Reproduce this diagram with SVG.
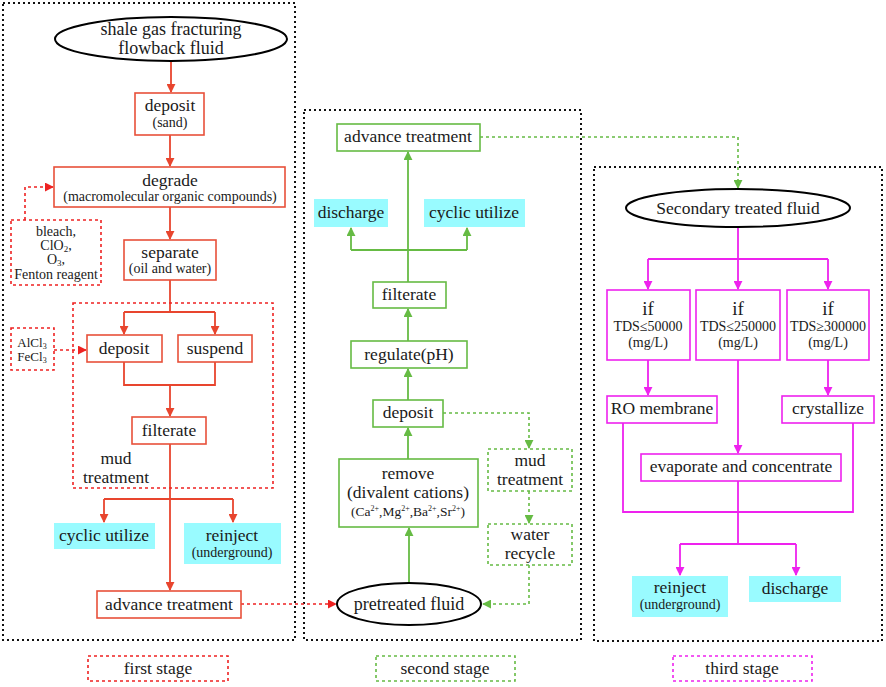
<svg xmlns="http://www.w3.org/2000/svg" width="886" height="687" viewBox="0 0 886 687" font-family="'Liberation Serif', Tinos, 'Times New Roman', serif">
<defs>
<style>
text{font-family:'Liberation Serif',Tinos,'Times New Roman',serif;fill:#1a1a1a;text-anchor:middle}
.t16{font-size:17.5px}.t13{font-size:14px}.t12{font-size:14px}.t17{font-size:18px}.tif{font-size:19px}
.panel{fill:none;stroke:#111;stroke-width:2;stroke-dasharray:2 3}
.rb{fill:#fff;stroke:#e8503a;stroke-width:1.6}
.rd{fill:none;stroke:#ee2222;stroke-width:1.6;stroke-dasharray:3 3}
.rl{fill:none;stroke:#e8452e;stroke-width:1.8}
.gb{fill:#fff;stroke:#66bb44;stroke-width:1.6}
.gd{fill:none;stroke:#66bb44;stroke-width:1.6;stroke-dasharray:3 3}
.gl{fill:none;stroke:#66bb44;stroke-width:1.8}
.mb{fill:#fff;stroke:#ee22ee;stroke-width:1.6}
.md{fill:none;stroke:#ee22ee;stroke-width:1.6;stroke-dasharray:3 3}
.ml{fill:none;stroke:#ee22ee;stroke-width:1.8}
.cy{fill:#99fbff}
.el{fill:#fff;stroke:#000;stroke-width:2}
</style>
<marker id="ar" viewBox="0 0 10 10" refX="9" refY="5" markerWidth="9" markerHeight="9" markerUnits="userSpaceOnUse" orient="auto"><path d="M0,0L10,5L0,10z" fill="#e8452e"/></marker>
<marker id="ard" viewBox="0 0 10 10" refX="9" refY="5" markerWidth="9" markerHeight="9" markerUnits="userSpaceOnUse" orient="auto"><path d="M0,0L10,5L0,10z" fill="#ee2222"/></marker>
<marker id="ag" viewBox="0 0 10 10" refX="9" refY="5" markerWidth="9" markerHeight="9" markerUnits="userSpaceOnUse" orient="auto"><path d="M0,0L10,5L0,10z" fill="#66bb44"/></marker>
<marker id="am" viewBox="0 0 10 10" refX="9" refY="5" markerWidth="9" markerHeight="9" markerUnits="userSpaceOnUse" orient="auto"><path d="M0,0L10,5L0,10z" fill="#ee22ee"/></marker>
</defs>
<rect width="886" height="687" fill="#fff"/>

<g id="panels">
<rect class="panel" x="3" y="3" width="292" height="637"/>
<rect class="panel" x="304" y="110" width="277" height="530"/>
<rect class="panel" x="594" y="167" width="288" height="474"/>
</g>

<g id="connectors">
<path class="rl" d="M171,62V92" marker-end="url(#ar)"/>
<path class="rl" d="M170,135V166" marker-end="url(#ar)"/>
<path class="rl" d="M170,207V239" marker-end="url(#ar)"/>
<path class="rd" d="M25,220V187H53" marker-end="url(#ard)"/>
<path class="rl" d="M170,280V312"/>
<path class="rl" d="M124,312H215"/>
<path class="rl" d="M124,312V334" marker-end="url(#ar)"/>
<path class="rl" d="M215,312V334" marker-end="url(#ar)"/>
<path class="rd" d="M54,350H86" marker-end="url(#ard)"/>
<path class="rl" d="M124,362V385H215V362"/>
<path class="rl" d="M170,385V416" marker-end="url(#ar)"/>
<path class="rl" d="M170,444V590" marker-end="url(#ar)"/>
<path class="rl" d="M104,499H233"/>
<path class="rl" d="M104,499V522" marker-end="url(#ar)"/>
<path class="rl" d="M233,499V522" marker-end="url(#ar)"/>
<path class="rd" d="M241,604H336" marker-end="url(#ard)"/>
<path class="gl" d="M409,583V528" marker-end="url(#ag)"/>
<path class="gl" d="M408,459V428" marker-end="url(#ag)"/>
<path class="gl" d="M408,400V369" marker-end="url(#ag)"/>
<path class="gl" d="M408,341V309" marker-end="url(#ag)"/>
<path class="gl" d="M408,282V152" marker-end="url(#ag)"/>
<path class="gl" d="M351,250H467"/>
<path class="gl" d="M351,250V228" marker-end="url(#ag)"/>
<path class="gl" d="M467,250V228" marker-end="url(#ag)"/>
<path class="gd" d="M443,413H529V448" marker-end="url(#ag)"/>
<path class="gd" d="M529,491V523" marker-end="url(#ag)"/>
<path class="gd" d="M529,565V604H483" marker-end="url(#ag)"/>
<path class="gd" d="M480,137H738V188" marker-end="url(#ag)"/>
<path class="ml" d="M738,227V259"/>
<path class="ml" d="M648,259H828"/>
<path class="ml" d="M648,259V289" marker-end="url(#am)"/>
<path class="ml" d="M738,259V289" marker-end="url(#am)"/>
<path class="ml" d="M828,259V289" marker-end="url(#am)"/>
<path class="ml" d="M648,360V395" marker-end="url(#am)"/>
<path class="ml" d="M828,360V395" marker-end="url(#am)"/>
<path class="ml" d="M738,360V453" marker-end="url(#am)"/>
<path class="ml" d="M623,423V512H853V423"/>
<path class="ml" d="M738,481V544"/>
<path class="ml" d="M680,544H796"/>
<path class="ml" d="M680,544V575" marker-end="url(#am)"/>
<path class="ml" d="M796,544V575" marker-end="url(#am)"/>
</g>

<g id="n-flowback">
<ellipse class="el" cx="171" cy="39" rx="116" ry="22"/>
<text class="t17" x="171" y="35">shale gas fracturing</text>
<text class="t17" x="171" y="54">flowback fluid</text>
</g>
<g id="n-deposit1">
<rect class="rb" x="135" y="93" width="69" height="42"/>
<text class="t16" x="170" y="111">deposit</text>
<text class="t12" x="170" y="127">(sand)</text>
</g>
<g id="n-degrade">
<rect class="rb" x="54" y="167" width="231" height="40"/>
<text class="t16" x="170" y="186">degrade</text>
<text class="t13" x="170" y="201">(macromolecular organic compounds)</text>
</g>
<g id="n-oxidants">
<rect class="rd" x="11" y="220" width="90" height="65"/>
<text class="t12" x="56" y="236">bleach,</text>
<text class="t12" x="56" y="250">ClO<tspan font-size="9" dy="2">2</tspan><tspan dy="-2">,</tspan></text>
<text class="t12" x="56" y="264">O<tspan font-size="9" dy="2">3</tspan><tspan dy="-2">,</tspan></text>
<text class="t12" x="56" y="279">Fenton reagent</text>
</g>
<g id="n-separate">
<rect class="rb" x="124" y="240" width="92" height="40"/>
<text class="t16" x="170" y="258">separate</text>
<text class="t12" x="170" y="273">(oil and water)</text>
</g>
<g id="n-mud1">
<rect class="rd" x="73" y="303" width="200" height="185"/>
<text class="t16" x="116" y="464">mud</text>
<text class="t16" x="116" y="483">treatment</text>
</g>
<g id="n-coag">
<rect class="rd" x="11" y="328" width="43" height="42"/>
<text font-size="13" x="32" y="347">AlCl<tspan font-size="8" dy="2">3</tspan></text>
<text font-size="13" x="32" y="361">FeCl<tspan font-size="8" dy="2">3</tspan></text>
</g>
<g id="n-deposit2">
<rect class="rb" x="87" y="335" width="75" height="27"/>
<text class="t16" x="124" y="354">deposit</text>
</g>
<g id="n-suspend">
<rect class="rb" x="178" y="335" width="74" height="27"/>
<text class="t16" x="215" y="354">suspend</text>
</g>
<g id="n-filterate1">
<rect class="rb" x="132" y="417" width="74" height="27"/>
<text class="t16" x="169" y="436">filterate</text>
</g>
<g id="n-cyclic1">
<rect class="cy" x="54" y="523" width="101" height="26"/>
<text class="t16" x="104" y="541">cyclic utilize</text>
</g>
<g id="n-reinject1">
<rect class="cy" x="184" y="523" width="97" height="41"/>
<text class="t16" x="232" y="541">reinject</text>
<text class="t12" x="232" y="557">(underground)</text>
</g>
<g id="n-advance1">
<rect class="rb" x="97" y="591" width="144" height="27"/>
<text class="t16" x="169" y="610">advance treatment</text>
</g>

<g id="n-pretreated">
<ellipse class="el" cx="409" cy="604" rx="72" ry="21"/>
<text class="t17" x="409" y="610">pretreated fluid</text>
</g>
<g id="n-remove">
<rect class="gb" x="339" y="459" width="139" height="68"/>
<text class="t16" x="408" y="479">remove</text>
<text class="t16" x="408" y="498">(divalent cations)</text>
<text font-size="13.5" x="408" y="516">(Ca<tspan font-size="8" dy="-5">2+</tspan><tspan dy="5">,Mg</tspan><tspan font-size="8" dy="-5">2+</tspan><tspan dy="5">,Ba</tspan><tspan font-size="8" dy="-5">2+</tspan><tspan dy="5">,Sr</tspan><tspan font-size="8" dy="-5">2+</tspan><tspan dy="5">)</tspan></text>
</g>
<g id="n-deposit3">
<rect class="gb" x="373" y="400" width="70" height="27"/>
<text class="t16" x="408" y="418">deposit</text>
</g>
<g id="n-regulate">
<rect class="gb" x="351" y="341" width="116" height="27"/>
<text class="t16" x="409" y="360">regulate(pH)</text>
</g>
<g id="n-filterate2">
<rect class="gb" x="373" y="282" width="73" height="26"/>
<text class="t16" x="409" y="300">filterate</text>
</g>
<g id="n-discharge2">
<rect class="cy" x="314" y="199" width="74" height="28"/>
<text class="t16" x="351" y="218">discharge</text>
</g>
<g id="n-cyclic2">
<rect class="cy" x="424" y="199" width="101" height="28"/>
<text class="t16" x="474" y="218">cyclic utilize</text>
</g>
<g id="n-advance2">
<rect class="gb" x="337" y="124" width="143" height="27"/>
<text class="t16" x="408" y="142">advance treatment</text>
</g>
<g id="n-mud2">
<rect class="gd" x="488" y="449" width="84" height="42"/>
<text class="t16" x="530" y="466">mud</text>
<text class="t16" x="530" y="485">treatment</text>
</g>
<g id="n-recycle">
<rect class="gd" x="488" y="524" width="84" height="41"/>
<text class="t16" x="530" y="540">water</text>
<text class="t16" x="530" y="559">recycle</text>
</g>

<g id="n-secondary">
<ellipse class="el" cx="738" cy="208" rx="112" ry="19"/>
<text class="t16" x="738" y="214">Secondary treated fluid</text>
</g>
<g id="n-if1">
<rect class="mb" x="607" y="290" width="83" height="70"/>
<text class="tif" x="648" y="315">if</text>
<text class="t13" x="648" y="331">TDS≤50000</text>
<text class="t13" x="648" y="347">(mg/L)</text>
</g>
<g id="n-if2">
<rect class="mb" x="696" y="290" width="84" height="70"/>
<text class="tif" x="738" y="315">if</text>
<text class="t13" x="738" y="331">TDS≤250000</text>
<text class="t13" x="738" y="347">(mg/L)</text>
</g>
<g id="n-if3">
<rect class="mb" x="787" y="290" width="82" height="70"/>
<text class="tif" x="828" y="315">if</text>
<text class="t13" x="828" y="331">TDS≥300000</text>
<text class="t13" x="828" y="347">(mg/L)</text>
</g>
<g id="n-ro">
<rect class="mb" x="607" y="396" width="110" height="27"/>
<text class="t16" x="662" y="414">RO membrane</text>
</g>
<g id="n-crystal">
<rect class="mb" x="782" y="396" width="92" height="27"/>
<text class="t16" x="828" y="414">crystallize</text>
</g>
<g id="n-evap">
<rect class="mb" x="641" y="454" width="200" height="27"/>
<text class="t16" x="741" y="472">evaporate and concentrate</text>
</g>
<g id="n-reinject3">
<rect class="cy" x="632" y="576" width="96" height="41"/>
<text class="t16" x="680" y="593">reinject</text>
<text class="t12" x="680" y="609">(underground)</text>
</g>
<g id="n-discharge3">
<rect class="cy" x="749" y="576" width="92" height="26"/>
<text class="t16" x="795" y="594">discharge</text>
</g>

<g id="legend-first">
<rect class="rd" x="88" y="656" width="140" height="25"/>
<text class="t16" x="158" y="674">first stage</text>
</g>
<g id="legend-second">
<rect class="gd" x="376" y="656" width="139" height="25"/>
<text class="t16" x="445" y="674">second stage</text>
</g>
<g id="legend-third">
<rect class="md" x="673" y="656" width="139" height="25"/>
<text class="t16" x="742" y="674">third stage</text>
</g>
</svg>
